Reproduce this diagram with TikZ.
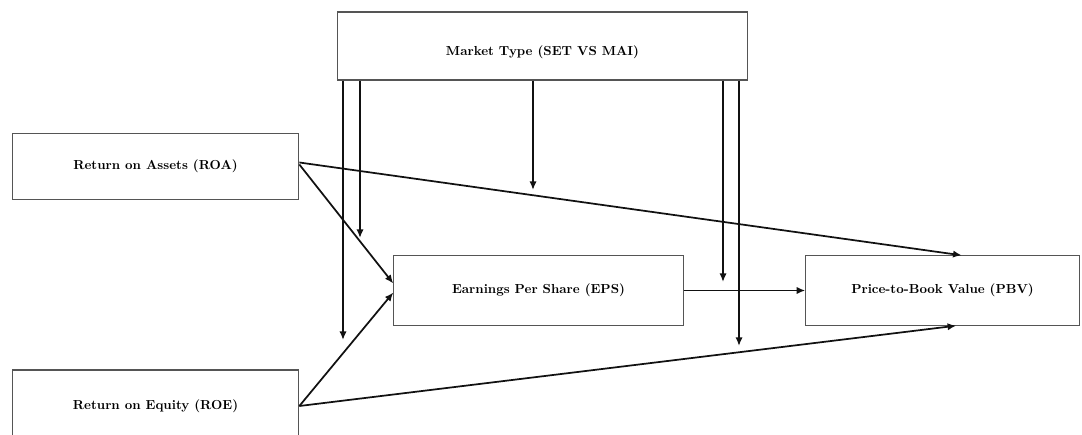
\documentclass[tikz,border=0pt]{standalone}
\usepackage{xcolor}
\usepackage{tikz}
\usetikzlibrary{calc,arrows.meta}
\definecolor{ink}{HTML}{111111}
\definecolor{frame}{HTML}{555555}
\tikzset{
  box/.style={draw=frame, line width=0.8pt, fill=white, inner sep=0pt, font=\bfseries\fontsize{9.8}{11}\selectfont},
  arr/.style={draw=ink, line width=1.3pt, -{Latex[length=6.5pt,width=5.5pt]}}
}

\begin{document}
\begin{tikzpicture}[x=0.75pt,y=-0.75pt]
  \useasboundingbox (0,0) rectangle (1082,435);

  \node[box, minimum width=308pt, minimum height=51pt] (mkt) at (542.5,46) {\raisebox{-4.5pt}[\height][\depth]{Market Type (SET VS MAI)}};
  \node[box, minimum width=215pt, minimum height=50pt] (roa) at (155.5,166.5) {Return on Assets (ROA)};
  \node[box, minimum width=215pt, minimum height=54pt] (roe) at (155.5,406) {Return on Equity (ROE)};
  \node[box, minimum width=217pt, minimum height=52pt] (eps) at (538.5,290.5) {Earnings Per Share (EPS)};
  \node[box, minimum width=205pt, minimum height=52pt] (pbv) at (942.5,290.5) {Price-to-Book Value (PBV)};

  % tips of the moderator arrows
  \coordinate (t1) at (343,340);
  \coordinate (t2) at (360,238);
  \coordinate (t3) at (533,190);
  \coordinate (t4) at (723,282);
  \coordinate (t5) at (739,346);

  \draw[arr] ($(roa.east)+(0,-4)$) -- ($(pbv.north west)!0.57!(pbv.north east)$);
  \draw[arr] ($(roa.east)+(0,-2)$) -- ($(eps.west)+(0,-7)$);
  \draw[arr] (roe.east) -- ($(eps.west)+(0,2)$);
  \draw[arr] (roe.east) -- ($(pbv.south west)!0.55!(pbv.south east)$);
  \draw[arr] (eps.east) -- (pbv.west);

  \foreach \t in {t1,t2,t3,t4,t5}
    \draw[arr] (mkt.south -| \t) -- (\t);
\end{tikzpicture}
\end{document}
